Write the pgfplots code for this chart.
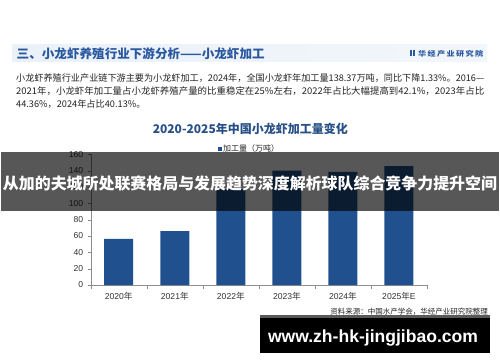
\documentclass[border=0pt]{standalone}
\usepackage{pgfplots}
\pgfplotsset{compat=1.18}
\usepackage{graphicx}
\usepackage{fontspec}
\setmainfont{Liberation Sans}
\newfontfamily\cjk{Noto Sans CJK SC}
\definecolor{barblue}{RGB}{33,80,143}
\definecolor{hdrblue}{RGB}{42,88,158}
\definecolor{ttlblue}{RGB}{40,80,135}
\definecolor{bandblue}{RGB}{234,241,249}
\definecolor{txt}{RGB}{35,35,35}
\begin{document}
\begin{tikzpicture}
\useasboundingbox (0pt,0pt) rectangle (500pt,362pt);
\begin{scope}[x=1pt,y=1pt]
\fill[white] (0,0) rectangle (500,362);
% header band
\shade[left color=bandblue, right color=bandblue!60!white] (12,300) rectangle (487,317);
\node[anchor=west, inner sep=0, text=hdrblue] at (16.5,308.5) {\resizebox{248pt}{\height}{\cjk\bfseries\fontsize{12.4}{13}\selectfont 三、小龙虾养殖行业下游分析——小龙虾加工}};
\fill[hdrblue] (409.5,305.5) rectangle (411.5,311.5);
\fill[hdrblue] (412.5,305.5) rectangle (414.5,311.5);
\node[anchor=west, inner sep=0, text=hdrblue] at (418,308.5) {\resizebox{65pt}{\height}{\cjk\bfseries\fontsize{7}{8}\selectfont 华\,经\,产\,业\,研\,究\,院}};
% paragraph
\node[anchor=west, inner sep=0, text=txt] at (16,284.3) {\resizebox{468pt}{\height}{\cjk\fontsize{9.2}{11}\selectfont 小龙虾养殖行业产业链下游主要为小龙虾加工，2024年，全国小龙虾年加工量138.37万吨，同比下降1.33\%。2016—}};
\node[anchor=west, inner sep=0, text=txt] at (16,271) {\resizebox{468pt}{\height}{\cjk\fontsize{9.2}{11}\selectfont 2021年，小龙虾年加工量占小龙虾养殖产量的比重稳定在25\%左右，2022年占比大幅提高到42.1\%，2023年占比}};
\node[anchor=west, inner sep=0, text=txt] at (16,257.7) {\cjk\fontsize{9.2}{11}\selectfont 44.36\%，2024年占比40.13\%。};
% chart title
\node[text=ttlblue] at (250.3,232.7) {\cjk\bfseries\fontsize{12}{13}\selectfont 2020-2025年中国小龙虾加工量变化};
% legend
\fill[barblue] (217.5,211.5) rectangle (221.5,215.5);
\node[anchor=west, inner sep=0, text=txt] at (223,213.5) {\cjk\fontsize{8}{9}\selectfont 加工量（万吨）};
\end{scope}
\begin{axis}[
  at={(90.7pt,77pt)}, anchor=origin,
  scale only axis, width=336.3pt, height=130.7pt,
  xmin=0, xmax=6, ymin=0, ymax=160,
  axis lines*=left, axis line style={draw=black!45, -},
  ytick={0,20,...,160},
  xtick={0.5,1.5,...,5.5},
  xticklabels={2020{\cjk 年},2021{\cjk 年},2022{\cjk 年},2023{\cjk 年},2024{\cjk 年},2025{\cjk 年}E},
  minor xtick={0,1,...,6},
  major x tick style={draw=none},
  tick align=outside, tick style={black!45},
  major tick length=3pt, minor tick length=4pt,
  tick label style={font=\fontsize{8.6}{10}\selectfont, text=black!80},
  yticklabel style={xshift=-1pt},
  xticklabel style={yshift=-1pt},
  /pgf/number format/assume math mode=true,
  ybar, bar width=29pt,
]
\addplot[fill=barblue, draw=none] coordinates {(0.5,56.5) (1.5,66) (2.5,118) (3.5,140) (4.5,138.37) (5.5,145.5)};
\end{axis}
\begin{scope}[x=1pt,y=1pt]
% banner
\fill[black, opacity=0.66] (1,151.3) rectangle (499,209.7);
\node[text=white] at (250,179) {\resizebox{494pt}{\height}{\cjk\bfseries\fontsize{15.8}{17}\selectfont 从加的夫城所处联赛格局与发展趋势深度解析球队综合竞争力提升空间}};
% source
\node[anchor=east, inner sep=0, text=txt] at (488,50.3) {\cjk\fontsize{7.5}{8}\selectfont 资料来源：中国水产学会，华经产业研究院整理};
% black box
\fill[black] (260,9.5) rectangle (490,47);
\fill[black!65] (260,44.5) rectangle (490,47);
\node[text=white] at (373,24) {\resizebox{210pt}{\height}{\bfseries\fontsize{17.5}{19}\selectfont www.zh-hk-jingjibao.com}};
\end{scope}
\end{tikzpicture}
\end{document}
